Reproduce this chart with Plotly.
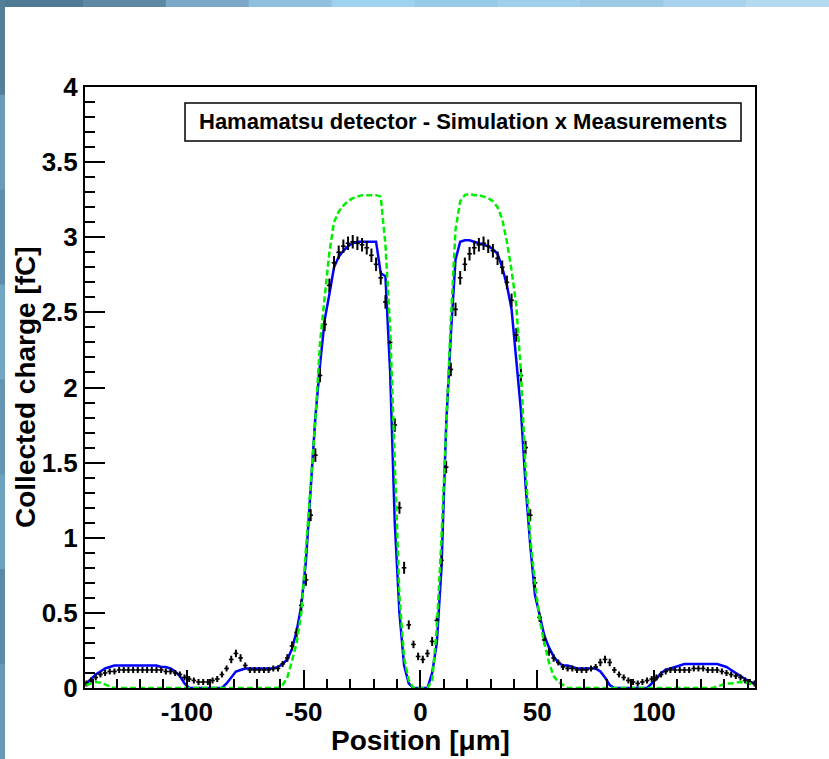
import plotly.graph_objects as go

# ---------------------------------------------------------------- data
position_um = [
    -143, -141, -139, -137, -135, -133, -131, -129, -127, -125, -123, -121,
    -119, -117, -115, -113, -111, -109, -107, -105, -103, -101, -99, -97,
    -95, -93, -91, -89, -87, -85, -83, -81, -79, -77, -75, -73,
    -71, -69, -67, -65, -63, -61, -59, -57, -55, -53, -51, -49,
    -47, -45, -43, -41, -39, -37, -35, -33, -31, -29, -27, -25,
    -23, -21, -19, -17, -15, -13, -11, -9, -7, -5, -3, -1,
    1, 3, 5, 7, 9, 11, 13, 15, 17, 19, 21, 23,
    25, 27, 29, 31, 33, 35, 37, 39, 41, 43, 45, 47,
    49, 51, 53, 55, 57, 59, 61, 63, 65, 67, 69, 71,
    73, 75, 77, 79, 81, 83, 85, 87, 89, 91, 93, 95,
    97, 99, 101, 103, 105, 107, 109, 111, 113, 115, 117, 119,
    121, 123, 125, 127, 129, 131, 133, 135, 137, 139, 141, 143,
]

# measured charge [fC]
charge_meas = [
    0.03, 0.05, 0.07, 0.09, 0.10, 0.11, 0.11, 0.12, 0.12, 0.12, 0.12, 0.12,
    0.12, 0.12, 0.12, 0.12, 0.12, 0.11, 0.11, 0.10, 0.09, 0.07, 0.06, 0.05,
    0.04, 0.04, 0.04, 0.05, 0.06, 0.09, 0.13, 0.19, 0.23, 0.20, 0.15, 0.12,
    0.12, 0.12, 0.12, 0.12, 0.13, 0.13, 0.16, 0.20, 0.28, 0.37, 0.55, 0.72,
    1.15, 1.55, 2.08, 2.42, 2.68, 2.83, 2.90, 2.94, 2.96, 2.97, 2.96, 2.95,
    2.93, 2.88, 2.82, 2.73, 2.57, 2.30, 1.75, 1.20, 0.80, 0.42, 0.29, 0.21,
    0.19, 0.23, 0.31, 0.45, 0.85, 1.47, 2.12, 2.52, 2.73, 2.82, 2.89, 2.93,
    2.95, 2.96, 2.94, 2.91, 2.86, 2.80, 2.70, 2.58, 2.35, 2.08, 1.60, 1.15,
    0.70, 0.47, 0.32, 0.24, 0.20, 0.17, 0.14, 0.13, 0.13, 0.12, 0.12, 0.12,
    0.13, 0.14, 0.17, 0.19, 0.17, 0.12, 0.09, 0.07, 0.05, 0.04, 0.03, 0.04,
    0.05, 0.06, 0.07, 0.09, 0.11, 0.12, 0.12, 0.12, 0.12, 0.12, 0.13, 0.13,
    0.13, 0.12, 0.12, 0.12, 0.11, 0.10, 0.09, 0.08, 0.07, 0.05, 0.04, 0.03,
]

# uncertainty on measured charge [fC]
charge_err = [
    0.02, 0.02, 0.02, 0.02, 0.02, 0.02, 0.02, 0.02, 0.02, 0.02, 0.02, 0.02,
    0.02, 0.02, 0.02, 0.02, 0.02, 0.02, 0.02, 0.02, 0.02, 0.02, 0.02, 0.02,
    0.02, 0.02, 0.02, 0.02, 0.02, 0.02, 0.02, 0.025, 0.025, 0.025, 0.02, 0.02,
    0.02, 0.02, 0.02, 0.02, 0.02, 0.02, 0.02, 0.025, 0.03, 0.03, 0.04, 0.04,
    0.04, 0.045, 0.045, 0.045, 0.045, 0.045, 0.045, 0.045, 0.045, 0.045, 0.045, 0.045,
    0.045, 0.045, 0.045, 0.045, 0.045, 0.045, 0.045, 0.04, 0.04, 0.03, 0.025, 0.025,
    0.025, 0.025, 0.03, 0.03, 0.04, 0.04, 0.045, 0.045, 0.045, 0.045, 0.045, 0.045,
    0.045, 0.045, 0.045, 0.045, 0.045, 0.045, 0.045, 0.045, 0.045, 0.045, 0.045, 0.04,
    0.04, 0.03, 0.03, 0.025, 0.025, 0.02, 0.02, 0.02, 0.02, 0.02, 0.02, 0.02,
    0.02, 0.02, 0.025, 0.025, 0.025, 0.02, 0.02, 0.02, 0.02, 0.02, 0.02, 0.02,
    0.02, 0.02, 0.02, 0.02, 0.02, 0.02, 0.02, 0.02, 0.02, 0.02, 0.02, 0.02,
    0.02, 0.02, 0.02, 0.02, 0.02, 0.02, 0.02, 0.02, 0.02, 0.02, 0.02, 0.02,
]

# simulated charge, model A (blue)
charge_sim_a = [
    0.03, 0.06, 0.09, 0.11, 0.13, 0.14, 0.15, 0.15, 0.15, 0.15, 0.15, 0.15,
    0.15, 0.15, 0.15, 0.15, 0.14, 0.14, 0.13, 0.11, 0.08, 0.03, 0.0, 0.0,
    0.0, 0.0, 0.0, 0.0, 0.0, 0.0, 0.03, 0.07, 0.11, 0.12, 0.13, 0.13,
    0.13, 0.13, 0.13, 0.13, 0.13, 0.14, 0.16, 0.19, 0.26, 0.38, 0.55, 0.85,
    1.35, 1.80, 2.15, 2.45, 2.62, 2.80, 2.87, 2.91, 2.94, 2.96, 2.97, 2.97,
    2.97, 2.97, 2.97, 2.76, 2.74, 2.11, 1.10, 0.50, 0.15, 0.03, 0.0, 0.0,
    0.0, 0.0, 0.10, 0.30, 0.80, 1.75, 2.35, 2.85, 2.97, 2.98, 2.98, 2.97,
    2.96, 2.95, 2.94, 2.92, 2.89, 2.80, 2.68, 2.52, 2.20, 1.85, 1.35, 0.95,
    0.62, 0.48, 0.35, 0.27, 0.21, 0.17, 0.15, 0.15, 0.14, 0.13, 0.13, 0.13,
    0.13, 0.13, 0.11, 0.07, 0.02, 0.0, 0.0, 0.0, 0.0, 0.0, 0.0, 0.0,
    0.0, 0.03, 0.06, 0.10, 0.12, 0.13, 0.14, 0.15, 0.16, 0.16, 0.16, 0.16,
    0.16, 0.16, 0.16, 0.16, 0.15, 0.14, 0.12, 0.10, 0.08, 0.06, 0.04, 0.03,
]

# simulated charge, model B (green)
charge_sim_b = [
    0.02, 0.03, 0.04, 0.035, 0.025, 0.01, 0.0, 0.0, 0.0, 0.0, 0.0, 0.0,
    0.0, 0.0, 0.0, 0.0, 0.0, 0.0, 0.0, 0.0, 0.0, 0.0, 0.0, 0.0,
    0.0, 0.0, 0.0, 0.0, 0.0, 0.0, 0.0, 0.0, 0.0, 0.0, 0.0, 0.0,
    0.0, 0.0, 0.0, 0.0, 0.0, 0.0, 0.02, 0.07, 0.18, 0.30, 0.50, 0.92,
    1.33, 1.78, 2.30, 2.60, 2.90, 3.10, 3.17, 3.21, 3.24, 3.26, 3.27, 3.28,
    3.28, 3.28, 3.28, 3.27, 2.95, 2.40, 1.45, 0.61, 0.20, 0.05, 0.0, 0.0,
    0.0, 0.0, 0.05, 0.40, 1.00, 1.78, 2.45, 3.05, 3.24, 3.28, 3.29, 3.28,
    3.28, 3.27, 3.26, 3.24, 3.20, 3.12, 2.97, 2.78, 2.55, 2.10, 1.45, 1.00,
    0.70, 0.46, 0.30, 0.17, 0.08, 0.04, 0.02, 0.0, 0.0, 0.0, 0.0, 0.0,
    0.0, 0.0, 0.0, 0.0, 0.0, 0.0, 0.0, 0.0, 0.0, 0.0, 0.0, 0.0,
    0.0, 0.0, 0.0, 0.0, 0.0, 0.0, 0.0, 0.0, 0.0, 0.0, 0.0, 0.0,
    0.0, 0.0, 0.0, 0.01, 0.02, 0.03, 0.03, 0.035, 0.04, 0.035, 0.03, 0.02,
]

y_ticks = [0, 0.5, 1, 1.5, 2, 2.5, 3, 3.5, 4]
y_tick_text = ["0", "0.5", "1", "1.5", "2", "2.5", "3", "3.5", "4"]
x_ticks = [-100, -50, 0, 50, 100]
x_tick_text = ["-100", "-50", "0", "50", "100"]

TITLE = "Hamamatsu detector - Simulation x Measurements"

# ---------------------------------------------------------------- geometry
W, H = 829, 759
L, R, T, B = 85, 74, 87, 71
PW, PH = W - L - R, H - T - B


def px(x):
    return (x - L) / PW


def py(y):
    return (H - B - y) / PH


FONT = "Liberation Sans, Arial, Helvetica, sans-serif"

fig = go.Figure()

fig.add_trace(go.Scatter(
    x=position_um, y=charge_sim_a, mode="lines",
    line=dict(color="#0000ff", width=2.5), name="Simulation A",
))
fig.add_trace(go.Scatter(
    x=position_um, y=charge_meas, mode="markers",
    marker=dict(color="black", size=2),
    error_y=dict(type="data", array=charge_err, color="black",
                 thickness=2, width=0),
    error_x=dict(type="constant", value=1.0, color="black",
                 thickness=1.6, width=0),
    name="Measurements",
))
fig.add_trace(go.Scatter(
    x=position_um, y=charge_sim_b, mode="lines",
    line=dict(color="#00ee00", width=2.5, dash="6px,3px"),
    name="Simulation B",
))

axis_common = dict(
    showgrid=False, zeroline=False, showline=True, linecolor="black",
    linewidth=2, mirror=True, ticks="inside", tickcolor="black",
    tickwidth=2, tickfont=dict(family=FONT, size=26, color="black",
                               weight="bold"),
)

fig.update_xaxes(
    range=[-143.6, 143.2], tickvals=x_ticks, ticktext=x_tick_text,
    ticklen=18,
    minor=dict(dtick=10, tick0=0, ticks="inside", ticklen=9,
               tickcolor="black", tickwidth=2),
    **axis_common,
)
fig.update_yaxes(
    range=[0, 4], tickvals=y_ticks, ticktext=y_tick_text,
    ticklen=20,
    minor=dict(dtick=0.1, tick0=0, ticks="inside", ticklen=10,
               tickcolor="black", tickwidth=2),
    **axis_common,
)

# slide background strips along the top and left edges
shapes = []
top_colors = ["#4f7a93", "#5d89a4", "#7aa8c6", "#8fc1df", "#9fd2ee",
              "#97cae6", "#a0d0eb", "#9cc9e3", "#a9d3ec", "#b3daf0"]
n = len(top_colors)
for i, c in enumerate(top_colors):
    x0 = W * i / n
    x1 = W * (i + 1) / n + 1
    shapes.append(dict(type="rect", xref="paper", yref="paper",
                       x0=px(x0), x1=px(x1), y0=py(7), y1=py(0),
                       fillcolor=c, line=dict(width=0), layer="above"))
left_colors = ["#557f98", "#6a9bb8", "#5e8eab", "#72a6c3", "#6395b2",
               "#6fa2bf", "#5b8aa6", "#6899b6"]
m = len(left_colors)
for i, c in enumerate(left_colors):
    y0 = H * i / m
    y1 = H * (i + 1) / m + 1
    shapes.append(dict(type="rect", xref="paper", yref="paper",
                       x0=px(0), x1=px(5), y0=py(y1), y1=py(y0),
                       fillcolor=c, line=dict(width=0), layer="above"))

# title box
shapes.append(dict(type="rect", xref="paper", yref="paper",
                   x0=px(185), x1=px(741), y0=py(141), y1=py(103),
                   fillcolor="white", line=dict(color="black", width=1.5)))

fig.update_layout(
    width=W, height=H,
    margin=dict(l=L, r=R, t=T, b=B, pad=0),
    paper_bgcolor="white", plot_bgcolor="white",
    showlegend=False,
    shapes=shapes,
    annotations=[
        dict(text=TITLE, xref="paper", yref="paper", x=px(463), y=py(122),
             xanchor="center", yanchor="middle", showarrow=False,
             font=dict(family=FONT, size=22, color="black", weight="bold")),
        dict(text="Position [μm]", xref="paper", yref="paper",
             x=px(420), y=py(740), xanchor="center", yanchor="middle",
             showarrow=False,
             font=dict(family=FONT, size=28, color="black", weight="bold")),
        dict(text="Collected charge [fC]", xref="paper", yref="paper",
             x=px(25), y=py(387), xanchor="center", yanchor="middle",
             textangle=-90, showarrow=False,
             font=dict(family=FONT, size=28, color="black", weight="bold")),
    ],
)

fig.write_html("out.html")
